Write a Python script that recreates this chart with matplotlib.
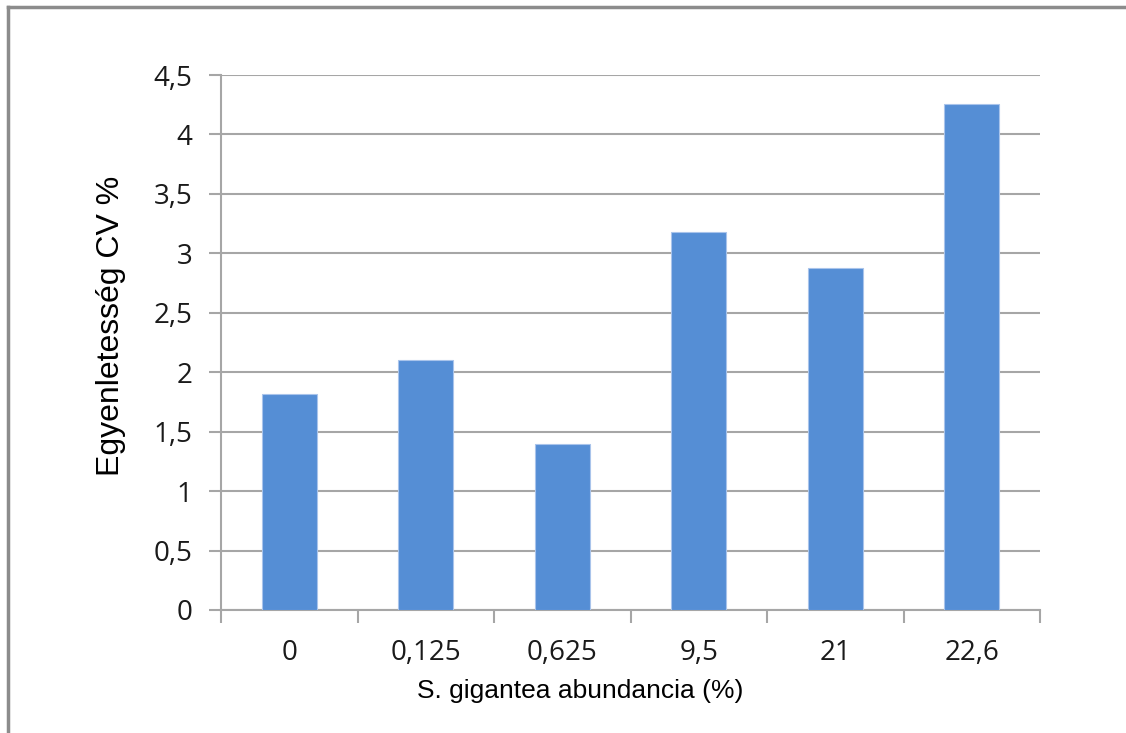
import matplotlib
matplotlib.use("Agg")
import matplotlib.pyplot as plt
from matplotlib.lines import Line2D
import numpy as np

categories = ["0", "0,125", "0,625", "9,5", "21", "22,6"]
cv_values = [1.82, 2.10, 1.40, 3.18, 2.88, 4.26]
y_ticks = [0, 0.5, 1, 1.5, 2, 2.5, 3, 3.5, 4, 4.5]
y_tick_labels = ["0", "0,5", "1", "1,5", "2", "2,5", "3", "3,5", "4", "4,5"]

W, H = 1126, 733
fig = plt.figure(figsize=(W / 100, H / 100), dpi=100)
fig.patch.set_facecolor("white")

ax = fig.add_axes([221 / W, 1 - 610 / H, (1040 - 221) / W, (610 - 75) / H])

grid_color = "#A6A6A6"
x = np.arange(len(categories))
ax.bar(x, cv_values, width=0.40, color="#558ED5", edgecolor="#A9C4EB",
       linewidth=0.8, zorder=3)

ax.set_xlim(-0.5, len(categories) - 0.5)
ax.set_ylim(0, 4.5)

ax.set_yticks(y_ticks)
ax.set_yticklabels(y_tick_labels)
ax.yaxis.grid(True, color=grid_color, linewidth=1.5, zorder=0)
ax.tick_params(axis="y", length=9, width=1.5, color=grid_color, pad=11.5,
               labelsize=20, labelcolor="#1a1a1a")

ax.set_xticks(x)
ax.set_xticklabels(categories)
ax.set_xticks(np.arange(-0.5, len(categories)), minor=True)
ax.tick_params(axis="x", which="major", length=0, pad=21, labelsize=20,
               labelcolor="#1a1a1a")
ax.tick_params(axis="x", which="minor", length=9, width=1.5, color=grid_color)

for lbl in ax.get_xticklabels() + ax.get_yticklabels():
    lbl.set_fontfamily(["Open Sans", "DejaVu Sans"])

for side in ("top", "right"):
    ax.spines[side].set_visible(False)
for side in ("left", "bottom"):
    ax.spines[side].set_color(grid_color)
    ax.spines[side].set_linewidth(1.5)

fig.text(580 / W, 1 - 691 / H, "S. gigantea abundancia (%)",
         ha="center", va="center", fontsize=19, family="Liberation Sans")
fig.text(111 / W, 1 - 326 / H, "Egyenletesség CV %", rotation=90,
         ha="center", va="center", fontsize=23, family="Liberation Sans")

# Outer frame (top and left edges)
fig.add_artist(Line2D([8 / W, 1], [1 - 7 / H, 1 - 7 / H], color="#8C8C8C",
                      linewidth=2.5, transform=fig.transFigure))
fig.add_artist(Line2D([8 / W, 8 / W], [0, 1 - 7 / H], color="#8C8C8C",
                      linewidth=2.5, transform=fig.transFigure))

fig.savefig("out.png", dpi=100)
